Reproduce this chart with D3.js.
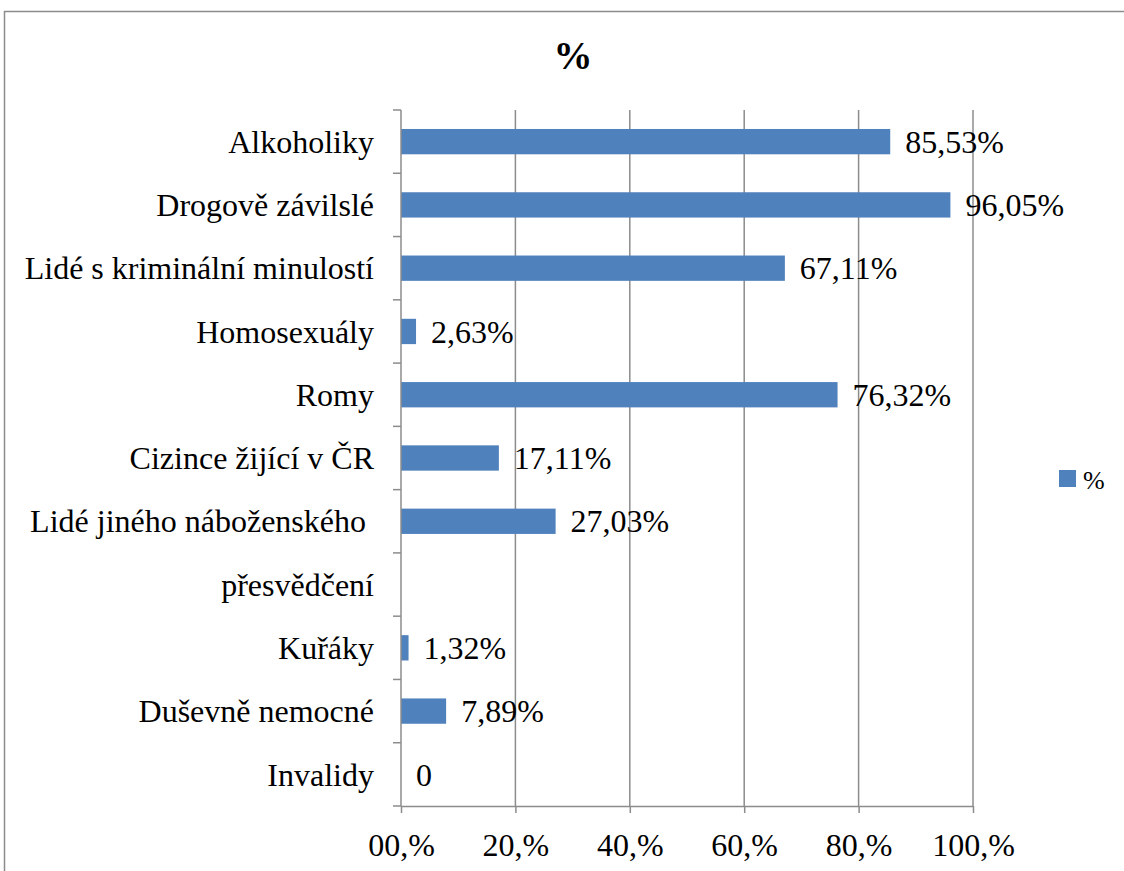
<!DOCTYPE html>
<html><head><meta charset="utf-8">
<script src="https://cdn.jsdelivr.net/npm/d3@7"></script>
<style>body{margin:0;background:#fff;} svg{display:block;} text{font-family:"Liberation Serif","Times New Roman",serif;}</style>
</head><body>
<svg id="c" width="1124" height="871"></svg>
<script>
const categories = ["Alkoholiky","Drogově závilslé","Lidé s kriminální minulostí","Homosexuály","Romy","Cizince žijící v ČR","Lidé jiného náboženského ","přesvědčení","Kuřáky","Duševně nemocné","Invalidy"];
const values = [85.53, 96.05, 67.11, 2.63, 76.32, 17.11, 27.03, null, 1.32, 7.89, 0];
const valueLabels = ["85,53%","96,05%","67,11%","2,63%","76,32%","17,11%","27,03%","","1,32%","7,89%","0"];
const xTicks = [0,20,40,60,80,100];
const xTickLabels = ["00,%","20,%","40,%","60,%","80,%","100,%"];
const seriesName = "%";
const title = "%";

const svg = d3.select("#c");
const FS = 32;
const L = 401, R = 973, T = 110, B = 806;
const grey = "#8c8c8c";

svg.append("rect").attr("x",4.5).attr("y",11.5).attr("width",1130).attr("height",880)
  .attr("fill","none").attr("stroke",grey).attr("stroke-width",1.5);

svg.append("text").attr("x",573).attr("y",69).attr("text-anchor","middle")
  .style("font-weight","bold").style("font-size","39px").text(title);

const x = d3.scaleLinear().domain([0,100]).range([L,R]);
const y = d3.scaleBand().domain(categories).range([T,B]).paddingInner(0.6).paddingOuter(0.3);

// gridlines
svg.append("g").selectAll("line").data(xTicks.slice(1)).join("line")
  .attr("x1",d=>x(d)).attr("x2",d=>x(d)).attr("y1",T).attr("y2",B)
  .attr("stroke",grey).attr("stroke-width",1.5);

// bars
svg.append("g").selectAll("rect").data(values.map((v,i)=>({v,c:categories[i]})).filter(d=>d.v!=null && d.v>0)).join("rect")
  .attr("x",x(0)).attr("y",d=>y(d.c)).attr("width",d=>x(d.v)-x(0)).attr("height",y.bandwidth())
  .attr("fill","#4F81BD");

// value labels
svg.append("g").selectAll("text").data(values.map((v,i)=>({v,c:categories[i],t:valueLabels[i]})).filter(d=>d.v!=null)).join("text")
  .attr("x",d=>x(d.v)+15).attr("y",d=>y(d.c)+y.bandwidth()/2).attr("dy","0.35em")
  .style("font-size",FS+"px").attr("fill","#000").text(d=>d.t);

// x axis
const xAxis = d3.axisBottom(x).tickValues(xTicks).tickFormat((d,i)=>xTickLabels[i]).tickSize(7);
const gx = svg.append("g").attr("transform",`translate(0,${B})`).call(xAxis);
gx.attr("font-family",null).attr("font-size",null);
gx.select(".domain").attr("stroke",grey).attr("stroke-width",1.5).attr("d",`M${L},0.5H${R}`);
gx.selectAll(".tick line").attr("stroke",grey).attr("stroke-width",1.5);
gx.selectAll(".tick text").attr("y",50).attr("dy",null).style("font-size",FS+"px").attr("fill","#000");

// y axis
const step = (B-T)/categories.length;
const bounds = d3.range(categories.length+1).map(i=>T+i*step);
svg.append("line").attr("x1",L).attr("x2",L).attr("y1",T).attr("y2",B).attr("stroke",grey).attr("stroke-width",1.5);
svg.append("g").selectAll("line").data(bounds).join("line")
  .attr("x1",L-8).attr("x2",L).attr("y1",d=>d).attr("y2",d=>d).attr("stroke",grey).attr("stroke-width",1.5);
svg.append("g").selectAll("text").data(categories).join("text")
  .attr("x",L-27).attr("y",d=>y(d)+y.bandwidth()/2).attr("dy","0.35em").attr("text-anchor","end")
  .style("font-size",FS+"px").attr("fill","#000").style("white-space","pre").text(d=>d);

// legend
svg.append("rect").attr("x",1059).attr("y",470).attr("width",17).attr("height",17).attr("fill","#4F81BD");
svg.append("text").attr("x",1083).attr("y",480).attr("dy","0.35em").style("font-size","26px").text(seriesName);
</script>
</body></html>
